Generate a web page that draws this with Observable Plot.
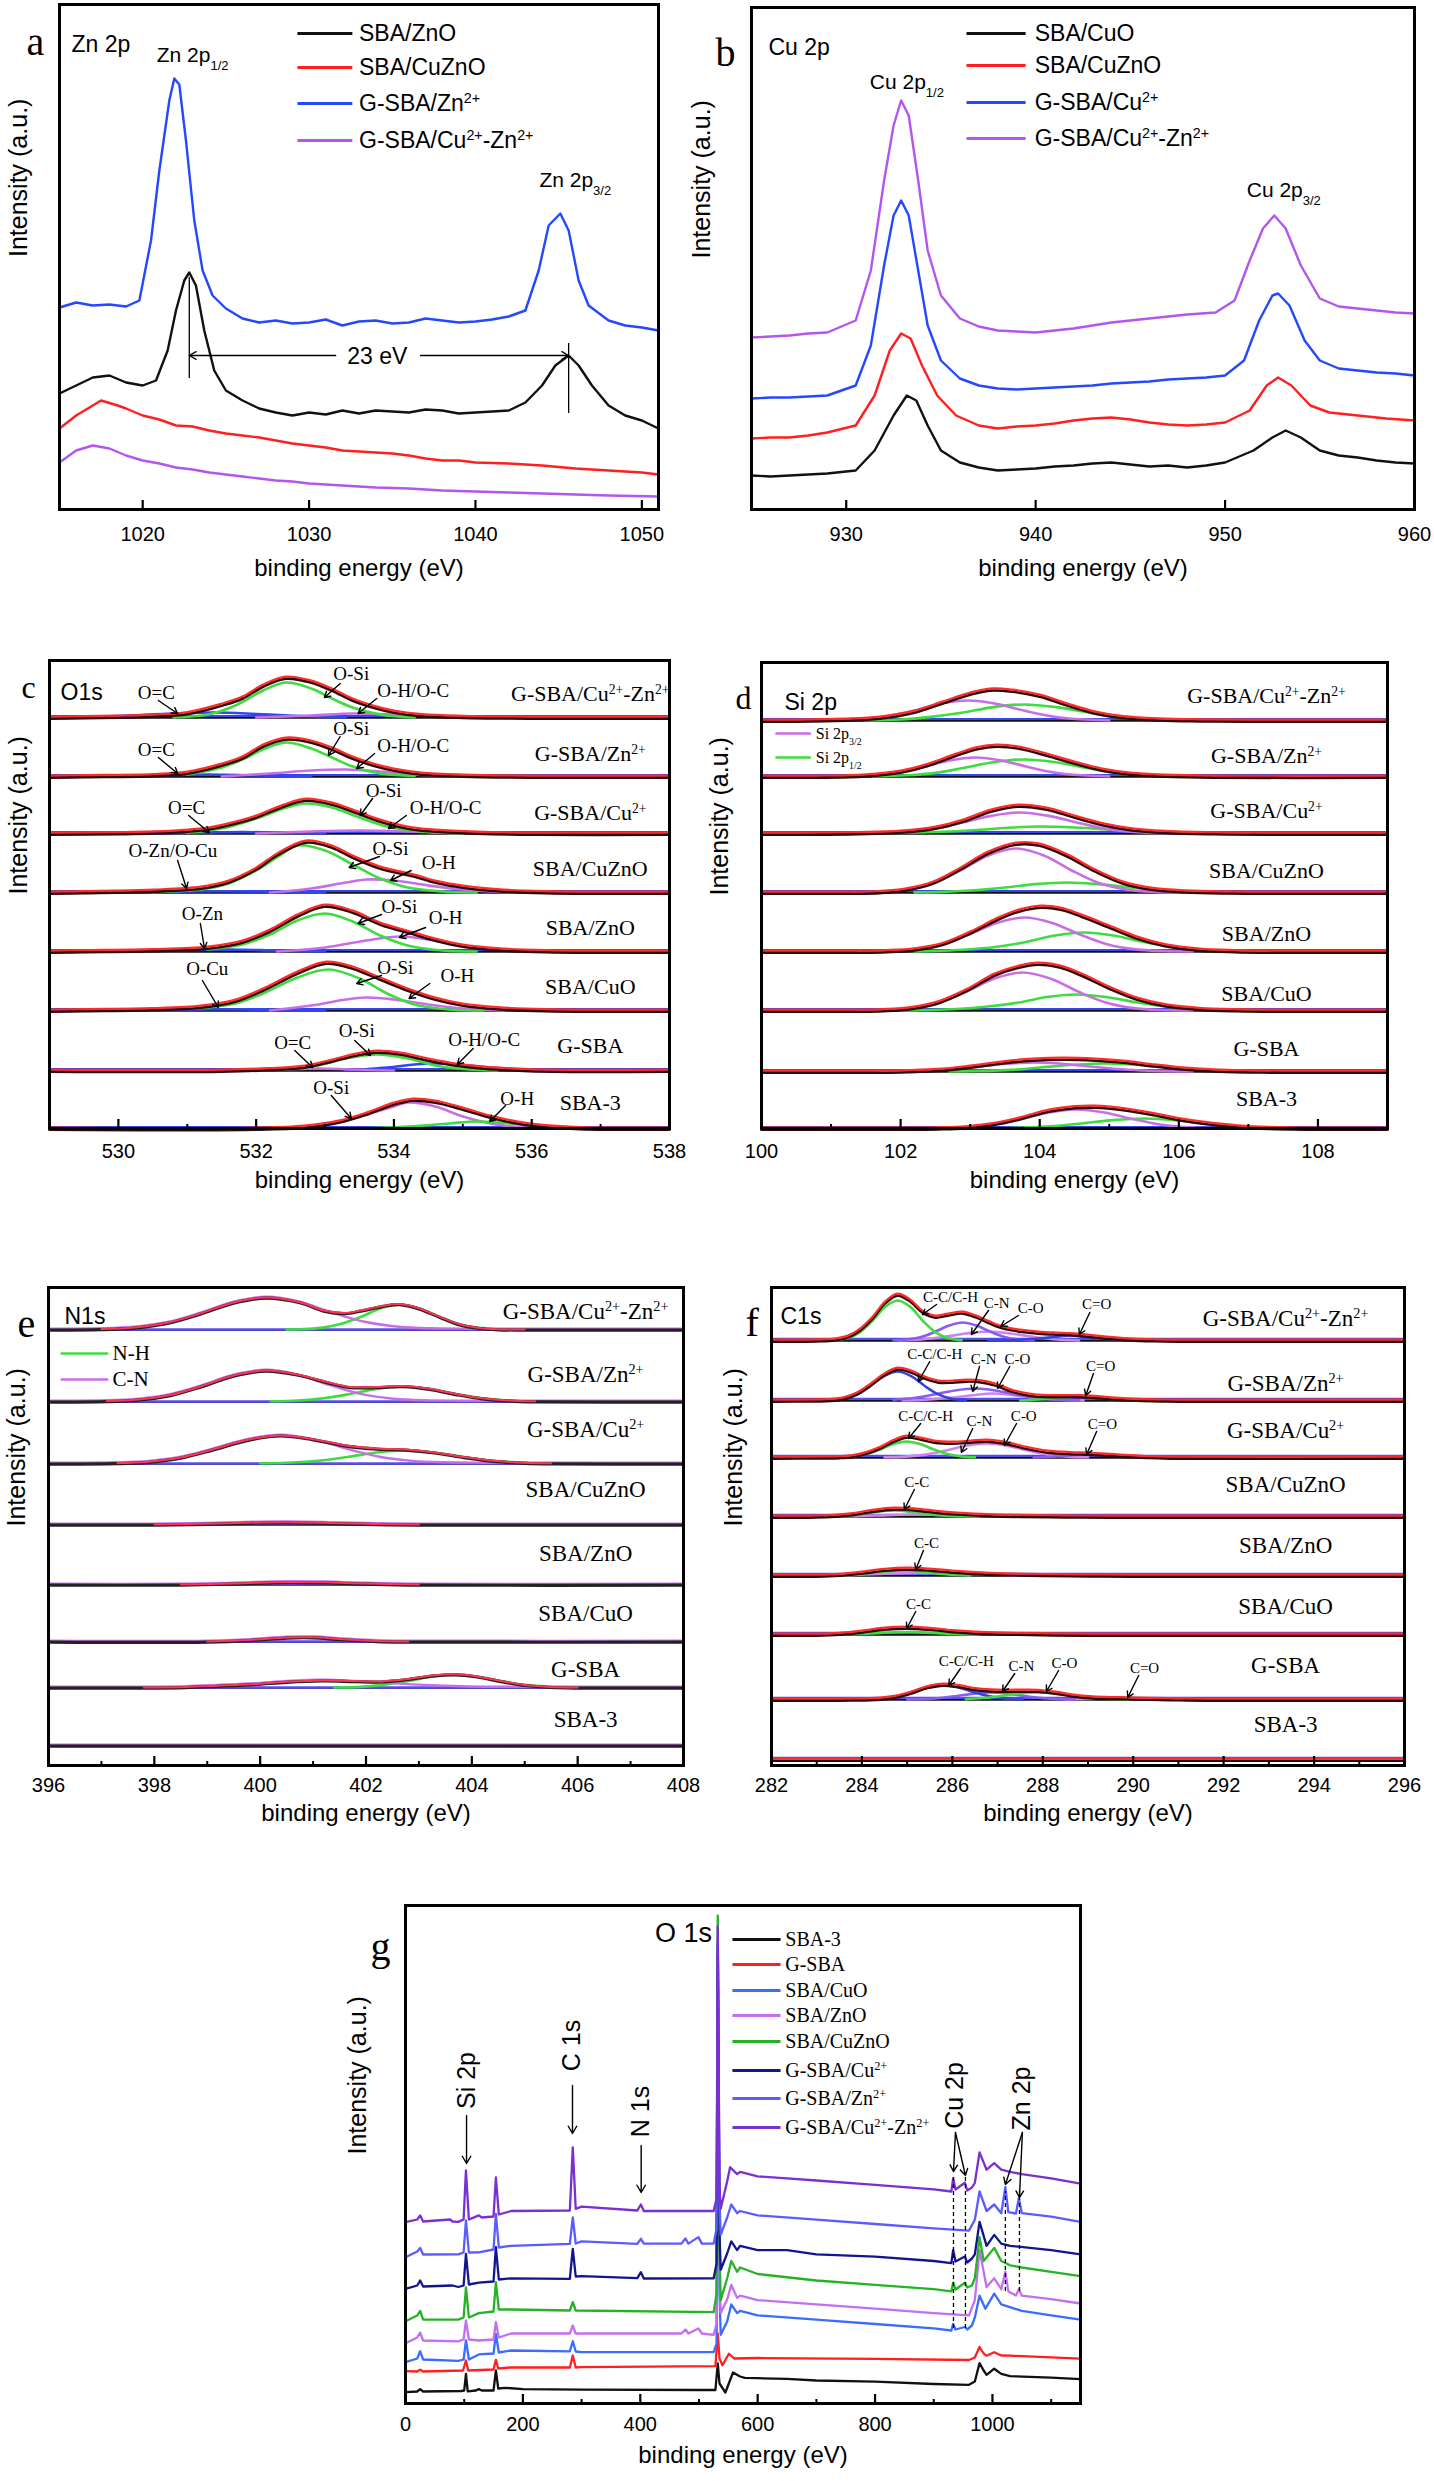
<!DOCTYPE html>
<html><head><meta charset="utf-8">
<script src="https://cdn.jsdelivr.net/npm/d3@7"></script>
<script src="https://cdn.jsdelivr.net/npm/@observablehq/plot@0.6"></script>
<style>
html,body{margin:0;padding:0;background:#fff;}
#root{position:relative;width:1434px;height:2481px;overflow:hidden;background:#fff;}
</style></head>
<body><div id="root"></div>
<script>
// ===================== DATA =====================
// ---- (a) Zn 2p : [binding energy eV, intensity a.u.]
const znSeries = ["SBA/ZnO", "SBA/CuZnO", "G-SBA/Zn^{2+}", "G-SBA/Cu^{2+}-Zn^{2+}"];
const zn2p_SBA_ZnO = [[1015,116],[1016,124],[1017,132],[1018,134],[1019,127],[1020,124],[1020.8,129],[1021.5,159],[1022,199],[1022.5,229],[1022.8,237],[1023.2,224],[1023.7,179],[1024.3,139],[1025,119],[1026,109],[1027,101],[1028,97],[1029,94],[1030,97],[1031,95],[1032,99],[1033,96],[1034,99],[1035,98],[1036,97],[1037,100],[1038,99],[1039,96],[1040,97],[1041,98],[1042,99],[1043,107],[1044,124],[1044.8,144],[1045.6,154],[1046.2,144],[1047,124],[1048,104],[1049,94],[1050,89],[1051,81]];
const zn2p_SBA_CuZnO = [[1015,81],[1016,94],[1017,104],[1017.5,109],[1018.5,104],[1019,101],[1020,94],[1021,90],[1022,84],[1023,83],[1024,79],[1025,76],[1026,74],[1027,72],[1028,69],[1029,66],[1030,64],[1031,62],[1032,59],[1033,58],[1034,57],[1035,56],[1036,54],[1037,51],[1038,49],[1039,49],[1040,47],[1042,46],[1044,44],[1046,41],[1048,39],[1050,37],[1051,35]];
const zn2p_GSBA_Zn = [[1015,202],[1016,207],[1017,204],[1018,205],[1019,203],[1019.8,209],[1020.5,269],[1021,339],[1021.6,409],[1021.9,431],[1022.2,425],[1022.6,369],[1023.1,289],[1023.6,239],[1024.2,214],[1025,201],[1026,191],[1027,187],[1028,189],[1029,186],[1030,187],[1031,190],[1032,184],[1033,188],[1034,189],[1035,186],[1036,187],[1037,191],[1038,189],[1039,187],[1040,188],[1041,190],[1042,193],[1043,199],[1043.8,239],[1044.4,284],[1045.1,296],[1045.6,279],[1046.2,229],[1046.8,204],[1048,189],[1049,184],[1050,182],[1051,179]];
const zn2p_GSBA_CuZn = [[1015,47],[1016,59],[1017,64],[1018,61],[1019,54],[1020,49],[1021,46],[1022,42],[1023,40],[1024,37],[1025,35],[1026,33],[1027,31],[1028,29],[1029,28],[1030,26],[1032,24],[1034,22],[1036,21],[1038,19],[1040,18],[1042,17],[1044,16],[1046,15],[1048,14],[1051,13]];
const zn2pTicks = [1020, 1030, 1040, 1050];
const zn2pLegendY = [476, 442, 406, 369];
const zn2pLegendX = [1029.3, 1032.6, 1033.0];

// ---- (b) Cu 2p
const cuSeries = ["SBA/CuO", "SBA/CuZnO", "G-SBA/Cu^{2+}", "G-SBA/Cu^{2+}-Zn^{2+}"];
const cu2p_SBA_CuO = [[925,34],[926,33],[927,34],[928,35],[929,36],[930.5,39],[931.5,59],[932.5,94],[933.2,114],[933.7,109],[934.3,84],[935,59],[936,47],[937,42],[938,39],[939,40],[940,41],[941,43],[942,44],[943,46],[944,47],[945,45],[946,43],[947,44],[948,42],[949,44],[950,47],[951.5,59],[952.5,72],[953.2,79],[954,72],[955,59],[956,54],[957,52],[958,49],[959,47],[960,46]];
const cu2p_SBA_CuZnO = [[925,71],[926,72],[927,72],[928,74],[929,77],[930.5,84],[931.5,114],[932.3,159],[932.9,176],[933.4,171],[934,144],[934.8,114],[935.8,94],[937,84],[938,81],[939,83],[940,84],[941,86],[942,89],[943,91],[944,92],[945,90],[946,87],[947,85],[948,84],[949,85],[950,87],[951.3,99],[952.2,124],[952.8,132],[953.5,124],[954.5,104],[955.5,97],[957,94],[958.5,91],[960,89]];
const cu2p_GSBA_Cu = [[925,111],[926,112],[927,112],[928,113],[929,114],[930.5,124],[931.3,164],[932,244],[932.5,294],[932.9,309],[933.3,294],[933.8,239],[934.3,184],[935,149],[936,131],[937,124],[938,121],[939,120],[940,121],[941,122],[942,123],[943,124],[944,126],[945,127],[946,128],[947,130],[948,131],[949,132],[950,134],[951,149],[951.8,189],[952.5,214],[952.8,216],[953.4,204],[954.2,169],[955,149],[956,141],[957,139],[958,137],[959,136],[960,134]];
const cu2p_GSBA_CuZn = [[925,172],[926,173],[927,174],[928,176],[929,177],[930.5,189],[931.3,239],[932,329],[932.5,384],[932.9,409],[933.3,394],[933.8,329],[934.3,259],[935,214],[936,191],[937,183],[938,179],[939,178],[940,177],[941,179],[942,181],[943,184],[944,187],[945,189],[946,191],[947,193],[948,195],[949.5,197],[950.5,209],[951.3,249],[952,281],[952.6,294],[953.2,281],[954,244],[955,211],[956,203],[957,201],[958,199],[959,197],[960,196]];
const cu2pTicks = [930, 940, 950, 960];
const cu2pLegendY = [476, 444, 407, 371];
const cu2pLegendX = [936.35, 939.47, 939.95];

// ---- shared sample names for stacked panels (top to bottom)
const samples = ["G-SBA/Cu^{2+}-Zn^{2+}", "G-SBA/Zn^{2+}", "G-SBA/Cu^{2+}", "SBA/CuZnO", "SBA/ZnO", "SBA/CuO", "G-SBA", "SBA-3"];

// ---- (c) O1s : per sample rows of [eV, height above row baseline]
const o1sOffsets = [411, 352, 295, 236, 177, 118, 58, 0];
const o1sLabelY = [435, 375, 316, 260, 201, 142, 83, 26];
const o1sLabelX = 536.85;
const o1sEnvelope = [
 [[529.5,0.5],[530,1],[530.5,2],[531,4.5],[531.5,13],[531.8,20],[532.1,32],[532.43,40],[532.8,36],[533.1,28],[533.4,18],[533.7,11],[534,6],[534.4,2.5],[535,0.8],[536,0]],
 [[529.5,0.5],[530.5,1.5],[531,4],[531.5,12],[531.8,19],[532.1,31],[532.43,38],[532.8,35],[533.1,28],[533.4,19],[533.7,12],[534,7],[534.4,3],[535,1],[536,0]],
 [[530,0.5],[530.8,2],[531.3,5],[531.7,11],[532,17],[532.4,28],[532.72,34],[533.1,30],[533.4,23],[533.8,13],[534.2,6],[534.6,3],[535.2,1],[536,0]],
 [[529.5,0.5],[530.5,2],[531.2,5],[531.6,11],[532,24],[532.3,38],[532.72,51],[533.1,46],[533.4,36],[533.8,25],[534.3,17],[534.6,11],[535,6],[535.5,2.5],[536.2,0.5],[537,0]],
 [[529.5,0.5],[530.5,1.5],[531.3,4],[531.8,10],[532.2,21],[532.6,36],[532.99,46],[533.4,40],[533.8,28],[534.3,18],[534.6,12],[535,6],[535.5,2.5],[536.2,0.5],[537,0]],
 [[529.5,0.5],[530.5,1.5],[531.2,4],[531.7,10],[532.1,21],[532.6,38],[533.02,48],[533.4,43],[533.8,32],[534.2,21],[534.6,12],[535,6],[535.5,2.5],[536.2,0.5],[537,0]],
 [[531.5,0],[532.2,1.5],[532.7,4],[533.1,10],[533.45,16],[533.75,19],[534.1,17],[534.5,11],[534.9,6],[535.3,3],[535.8,1],[536.3,0]],
 [[532,0],[532.7,2],[533.2,7],[533.6,15],[534,25],[534.28,29],[534.6,27],[535,20],[535.4,12],[535.8,6],[536.2,2.5],[536.7,0.5],[537.2,0]]
];
const o1sGreen = [
 [[530.8,0],[531.3,3],[531.7,12],[532.1,27],[532.43,35],[532.8,29],[533.1,19],[533.4,10],[533.8,3],[534.3,0]],
 [[531,2],[531.5,9],[531.8,17],[532.1,27],[532.43,34],[532.8,28],[533.1,19],[533.4,10],[533.8,3],[534.3,0.5]],
 [[531,1],[531.5,5],[532,15],[532.4,25],[532.72,30],[533.1,26],[533.5,16],[533.9,7],[534.4,2],[535,0]],
 [[530.5,0.5],[531.2,3],[531.6,9],[532,22],[532.3,35],[532.6,47],[533,42],[533.4,28],[533.8,14],[534.2,5],[534.7,1],[535.2,0]],
 [[531.3,2],[531.8,7],[532.2,17],[532.6,31],[533,38],[533.4,30],[533.8,16],[534.2,6],[534.7,1],[535.2,0]],
 [[531,1.5],[531.7,7],[532.1,17],[532.6,33],[533.05,41],[533.5,32],[533.9,17],[534.3,6],[534.8,1],[535.3,0]],
 [[532.3,0.5],[532.9,5],[533.3,12],[533.75,16],[534.2,12],[534.6,5],[535,1.5],[535.5,0]],
 [[533.5,0],[534.2,2],[534.8,5],[535.2,7],[535.6,5.5],[536,3],[536.5,1],[537,0]]
];
const o1sPurple = [
 [[532,0],[532.8,2],[533.4,4],[534,3],[534.6,1],[535.2,0]],
 [[531.5,0],[532.2,3],[532.8,6],[533.3,7],[533.8,5],[534.3,2],[535,0]],
 [[532,0],[532.8,2],[533.5,3],[534.2,2],[535,0]],
 [[532.2,0],[532.8,4],[533.3,10],[533.6,13],[534,12],[534.5,7],[535,3],[535.6,0.5],[536,0]],
 [[532.3,0],[533,4],[533.6,11],[534.08,15],[534.5,12],[535,6],[535.5,2],[536,0]],
 [[532.2,0],[532.8,5],[533.3,11],[533.6,13],[534,11],[534.5,6],[535,2],[535.6,0]],
 [[531.8,0],[532.4,1],[532.9,2],[533.4,1],[534,0]],
 [[532.2,0],[532.8,2],[533.3,8],[533.7,16],[534,22],[534.2,26],[534.6,22],[535,12],[535.4,5],[535.8,1.5],[536.3,0]]
];
const o1sBlue = [
 [[529.3,0],[530,1.5],[530.8,4],[531.4,5],[532,3.5],[532.6,1.5],[533.3,0]],
 [[529.5,0],[530.5,1],[531.3,2],[532,1],[532.8,0]],
 [[530.5,0],[531.3,1],[531.8,1.5],[532.5,0.5],[533,0]],
 [[529.5,0],[530.5,0.8],[531.5,1.2],[532.5,0.5],[533,0]],
 [[530,0],[531,1.5],[531.6,2],[532.3,1],[533,0]],
 [[529.8,0],[530.8,0.8],[531.5,1.2],[532.3,0.5],[533,0]],
 [[533.3,0],[533.9,3],[534.3,6],[534.6,7],[535,5.5],[535.4,3],[535.9,0.8],[536.5,0]],
 []
];
// [label, label eV, label y, arrow start eV, y, arrow end eV, y]
const o1sNotes = [
 ["O=C",530.55,436,530.58,428,530.86,415],["O-Si",533.38,455,533.22,445,532.99,431],["O-H/O-C",534.28,438,533.75,430,533.48,415],
 ["O-Si",533.38,400,533.22,392,533.05,373],["O=C",530.55,379,530.58,371,530.86,355],["O-H/O-C",534.28,383,533.72,375,533.46,360],
 ["O=C",530.99,321,531.02,313,531.32,296],["O-Si",533.85,338,533.69,330,533.51,313],["O-H/O-C",534.75,321,534.18,313,533.92,300],
 ["O-Zn/O-Cu",530.79,278,530.86,268,530.99,240],["O-Si",533.95,280,533.79,272,533.35,261],["O-H",534.65,266,534.25,258,533.95,248],
 ["O-Zn",531.22,215,531.19,205,531.25,180],["O-Si",534.08,222,533.82,214,533.48,205],["O-H",534.75,211,534.46,201,534.08,191],
 ["O-Cu",531.29,160,531.22,148,531.45,121],["O-Si",534.02,161,533.82,153,533.46,145],["O-H",534.92,153,534.52,145,534.22,130],
 ["O=C",532.53,86,532.56,78,532.82,61],["O-Si",533.46,98,533.43,88,533.66,73],["O-H/O-C",535.31,89,535.15,80,534.92,64],
 ["O-Si",533.09,41,533.09,33,533.38,10],["O-H",535.79,30,535.62,23,535.39,7]
];
const o1sMajor = [530, 532, 534, 536, 538];
const o1sMinor = [531, 533, 535, 537];

// ---- (d) Si 2p
const si2pOffsets = [408, 352, 295, 236, 177, 118, 57, 0];
const si2pLabelY = [433, 373, 318, 258, 195, 135, 80, 30];
const si2pLabelX = 107.26;
const si2pEnvelope = [
 [[100.5,0],[101.2,1],[101.7,3],[102.2,9],[102.6,18],[103,27],[103.28,31],[103.6,30],[104,25],[104.4,16],[104.8,8],[105.2,3.5],[105.7,1.2],[106.3,0.3],[107,0]],
 [[100.8,0],[101.5,1.3],[102,5],[102.4,12],[102.8,22],[103.1,28.5],[103.38,31],[103.7,29],[104.1,22],[104.5,14],[104.9,7],[105.3,3],[105.8,1],[106.5,0]],
 [[100.5,0],[101.4,0.6],[102,2],[102.5,6],[102.9,13],[103.3,23],[103.68,28],[104.1,25],[104.5,17],[104.9,9.5],[105.3,4.5],[105.8,1.7],[106.5,0.4],[107.2,0]],
 [[101.3,0],[101.7,0.6],[102.06,2.9],[102.46,9.8],[102.86,24],[103.26,40],[103.66,49],[104,48],[104.4,37],[104.8,22],[105.2,10],[105.6,4],[106.1,1.2],[106.7,0.2],[107.2,0]],
 [[101.4,0],[101.8,0.5],[102.2,2.3],[102.6,7.6],[103,19],[103.4,33],[103.7,41],[104.01,45],[104.3,43],[104.6,36],[105,25],[105.4,14],[105.8,6.5],[106.3,2],[106.8,0.5],[107.3,0]],
 [[101.4,0],[101.75,0.5],[102.15,2.5],[102.55,8.5],[102.95,20.5],[103.35,36],[103.7,44],[103.98,47],[104.3,44],[104.6,36],[105,23],[105.4,12],[105.8,5.5],[106.3,1.8],[106.8,0.4],[107.3,0]],
 [[101.7,0],[102.1,0.5],[102.6,2],[103,5],[103.5,9.5],[103.9,12],[104.36,13],[104.8,12],[105.2,10],[105.6,6.5],[106,3.5],[106.5,1.2],[107,0.3],[107.5,0]],
 [[102.1,0],[102.53,0.3],[102.93,1.3],[103.33,4.5],[103.73,10.5],[104.13,18],[104.5,21.5],[104.8,22],[105.2,19.5],[105.6,15],[106,9.5],[106.4,5.5],[106.85,2.3],[107.3,0.7],[107.8,0.1]]
];
const si2p32 = [
 [[101,0.3],[101.4,1.2],[101.8,4.2],[102.2,10],[102.57,16.8],[102.97,20],[103.37,16.8],[103.77,10],[104.17,4.2],[104.57,1.2],[105,0.2]],
 [[101.2,0.2],[101.6,1.2],[102,4],[102.33,9.5],[102.7,16],[103.08,19],[103.45,16],[103.83,9.5],[104.2,4],[104.6,1.2],[105,0.2]],
 [[101.6,0.3],[102,1.2],[102.45,4.4],[102.86,10.5],[103.3,17.6],[103.71,21],[104.13,17.6],[104.56,10.5],[104.98,4.4],[105.4,1.2],[105.9,0.2]],
 [[101.3,0],[101.66,0.6],[102.06,2.8],[102.46,9.2],[102.86,22],[103.26,37],[103.66,44],[104.06,37],[104.46,22],[104.86,9.2],[105.26,2.8],[105.66,0.6],[106.1,0]],
 [[101.4,0],[101.78,0.5],[102.18,2.1],[102.58,7],[102.98,17],[103.38,28.5],[103.78,34],[104.18,28.5],[104.58,17],[104.98,7],[105.38,2.1],[105.78,0.5],[106.2,0]],
 [[101.4,0],[101.75,0.5],[102.15,2.4],[102.55,8],[102.95,19],[103.35,32],[103.75,38],[104.15,32],[104.55,19],[104.95,8],[105.35,2.4],[105.75,0.5],[106.2,0]],
 [[101.7,0],[102.1,0.5],[102.56,1.8],[103,4.5],[103.46,7.5],[103.91,9],[104.36,7.5],[104.8,4.5],[105.26,1.8],[105.7,0.5],[106.2,0]],
 [[102.1,0],[102.53,0.3],[102.93,1.2],[103.33,4],[103.73,9.5],[104.13,16],[104.53,19],[104.93,16],[105.33,9.5],[105.73,4],[106.13,1.2],[106.53,0.3],[107,0]]
];
const si2p12 = [
 [[101.5,0.2],[102,1],[102.4,3.4],[102.9,8],[103.33,13.4],[103.78,16],[104.23,13.4],[104.7,8],[105.1,3.4],[105.6,1],[106,0.2]],
 [[101.6,0.3],[102.1,1.2],[102.5,3.6],[102.9,8.5],[103.33,14.3],[103.78,17],[104.23,14.3],[104.68,8.5],[105.1,3.6],[105.6,1],[106.1,0.2]],
 [[101.3,0.1],[101.9,0.5],[102.5,1.5],[103.1,3.5],[103.6,6],[103.99,7],[104.5,6],[105.1,3.5],[105.6,1.5],[106.3,0.5],[107,0]],
 [[102.2,0.1],[102.6,0.6],[103,2],[103.5,5],[103.94,8.4],[104.39,10],[104.84,8.4],[105.3,5],[105.75,2],[106.2,0.6],[106.7,0.1]],
 [[102.2,0.1],[102.5,0.5],[102.9,1.8],[103.36,4.5],[103.8,9.5],[104.22,16],[104.64,19],[105.06,16],[105.5,9.5],[105.92,4.5],[106.35,1.5],[106.8,0.4],[107.3,0]],
 [[102,0.1],[102.4,0.5],[102.8,1.5],[103.25,4],[103.7,8],[104.1,13.5],[104.53,16],[104.95,13.5],[105.4,8],[105.8,4],[106.25,1.3],[106.7,0.3],[107.2,0]],
 [[102.7,0],[103.1,0.5],[103.6,1.6],[104,4],[104.5,6.7],[104.94,8],[105.4,6.7],[105.85,4],[106.3,1.6],[106.8,0.5],[107.3,0]],
 [[103.3,0.1],[103.7,0.7],[104.15,2.1],[104.6,5],[105.05,8.4],[105.5,10],[105.95,8.4],[106.4,5],[106.85,2.1],[107.3,0.6],[107.8,0.1]]
];
const si2pLegend = ["Si 2p_{3/2}", "Si 2p_{1/2}"];
const si2pLegendY = [395, 371];
const si2pLegendX = [100.2, 100.71, 100.78];
const si2pMajor = [100, 102, 104, 106, 108];
const si2pMinor = [101, 103, 105, 107];

// ---- (e) N1s
const n1sOffsets = [436, 364, 302, 241, 181, 124, 78, 20];
const n1sLabelY = [454, 391, 336, 276, 212, 152, 96, 46];
const n1sLabelX = 406.15;
const n1sEnvelope = [
 [[397,0.4],[397.62,2],[398.25,6.7],[398.87,16],[399.5,27],[400.12,32],[400.75,27.3],[401.2,19],[401.6,16.5],[401.9,19],[402.3,23.5],[402.64,25.5],[403,21.2],[403.4,12.6],[403.77,5.2],[404.14,1.6],[404.5,0.3],[405,0]],
 [[397.1,0.4],[397.7,2],[398.3,6.5],[398.9,15.5],[399.5,26],[400.12,31],[400.72,26.8],[401.32,18.7],[401.7,14.5],[402.2,14.5],[402.7,15.5],[403.2,12.7],[403.7,7.5],[404.2,3.2],[404.7,1],[405.2,0.2]],
 [[397.3,0.4],[397.9,1.8],[398.5,6],[399.1,14],[399.75,23.5],[400.38,28.1],[401,24.3],[401.63,18],[402.2,15],[402.75,14],[403.3,11.1],[403.85,6.5],[404.4,2.7],[405,0.8],[405.5,0.2]],
 [[398,0],[399,0.8],[400,2],[400.5,2.2],[401.3,1.5],[402.2,0.4],[403,0]],
 [[398.5,0],[399.5,1],[400.5,2.5],[401.2,2.2],[402,1],[403,0]],
 [[399,0],[399.8,1.5],[400.5,4],[401,4.2],[401.5,2.5],[402.2,0.5],[402.8,0]],
 [[397.8,0],[398.6,0.5],[399.2,1.8],[399.9,3.5],[400.5,5.8],[401.17,7.1],[401.8,6.4],[402.3,6.1],[402.8,8.6],[403.25,12],[403.68,13.2],[404.1,11.1],[404.55,6.5],[405,2.6],[405.5,0.6],[406,0]],
 []
];
const n1sCN = [
 [[397,0.4],[397.62,2],[398.25,6.7],[398.87,16],[399.5,27],[400.12,32],[400.75,27],[401.37,16],[402,6.7],[402.62,2],[403.25,0.4],[404,0]],
 [[397.1,0.4],[397.7,2],[398.3,6.5],[398.9,15.5],[399.5,26],[400.12,31],[400.72,26],[401.32,15.5],[401.92,6.5],[402.52,2],[403.1,0.4],[403.8,0]],
 [[397.3,0.4],[397.9,1.8],[398.5,6],[399.1,14],[399.75,23.5],[400.38,28],[401,23.5],[401.63,14],[402.25,6],[402.88,1.8],[403.5,0.4],[404.2,0]],
 [[398,0],[399,0.8],[400,2],[400.5,2.2],[401.3,1.5],[402.2,0.4],[403,0]],
 [[398.5,0],[399.5,1],[400.5,2.5],[401.2,2.2],[402,1],[403,0]],
 [[399,0],[399.8,1.5],[400.5,4],[401,4.2],[401.5,2.5],[402.2,0.5],[402.8,0]],
 [[397.8,0],[398.6,0.5],[399.2,1.8],[399.9,3.5],[400.5,5.8],[401.17,7],[401.8,5.8],[402.5,3.5],[403.1,1.8],[403.8,0.5],[404.5,0]],
 []
];
const n1sNH = [
 [[400.5,0],[400.77,0.3],[401.14,1.6],[401.5,5.2],[401.9,12.5],[402.27,21],[402.64,25],[403,21],[403.4,12.5],[403.77,5.2],[404.14,1.6],[404.5,0.3],[405,0]],
 [[400.2,0.2],[400.7,1],[401.2,3.2],[401.7,7.5],[402.2,12.6],[402.7,15],[403.2,12.6],[403.7,7.5],[404.2,3.2],[404.7,1],[405.2,0.2]],
 [[400,0.2],[400.5,0.8],[401.1,2.7],[401.65,6.5],[402.2,11],[402.75,13],[403.3,11],[403.85,6.5],[404.4,2.7],[405,0.8],[405.5,0.2]],
 [], [], [],
 [[401.4,0],[401.9,0.6],[402.3,2.6],[402.8,6.5],[403.25,11],[403.68,13],[404.1,11],[404.55,6.5],[405,2.6],[405.5,0.6],[406,0]],
 []
];
const n1sLegend = ["N-H", "C-N"];
const n1sLegendY = [412, 386];
const n1sLegendX = [396.23, 397.13, 397.21];
const n1sMajor = [396, 398, 400, 402, 404, 406, 408];
const n1sMinor = [397, 399, 401, 403, 405, 407];

// ---- (f) C1s
const c1sOffsets = [425, 365, 308, 249, 190, 131, 66, 6];
const c1sLabelY = [447, 382, 335, 281, 220, 159, 100, 41];
const c1sLabelX = 293.37;
const c1sEnvelope = [
 [[283,0.2],[283.4,1.1],[283.69,4],[283.96,11],[284.24,23],[284.51,38],[284.79,46],[285.07,40],[285.34,29],[285.62,24],[285.9,26],[286.23,28],[286.53,24],[286.83,18],[287.13,13],[287.5,10],[287.9,8],[288.3,7],[288.6,6.5],[289,5],[289.4,3],[289.9,1.2],[290.5,0.3],[291,0]],
 [[283,0.2],[283.29,0.6],[283.59,2.2],[283.89,7],[284.19,16],[284.49,26],[284.79,32],[285.09,29],[285.39,23],[285.69,19],[286,19],[286.3,20],[286.6,19.5],[286.95,16],[287.3,10],[287.7,6],[288.1,4.5],[288.5,4.5],[288.8,4.5],[289.2,3.5],[289.6,2],[290.1,0.8],[290.6,0.2],[291,0]],
 [[283.2,0.2],[283.49,0.5],[283.79,1.5],[284.09,4.5],[284.39,9.5],[284.69,16.5],[284.99,21],[285.3,19],[285.6,16],[286,15],[286.4,16],[286.76,17],[287.2,14.5],[287.66,9.5],[288.1,6],[288.6,4.5],[289,4],[289.4,3],[289.8,1.7],[290.3,0.6],[290.8,0]],
 [[282.8,0],[283.3,0.6],[283.8,2.5],[284.2,5.5],[284.7,8],[285.2,7],[285.7,4.5],[286.2,2.8],[286.8,1.5],[287.5,0.7],[288.5,0.2],[289.5,0]],
 [[283,0],[283.5,0.8],[284,3],[284.5,5.8],[285,7],[285.5,6],[286,4],[286.5,2.5],[287.2,1.3],[288,0.6],[289,0.2],[290,0]],
 [[283,0],[283.5,0.8],[284,3],[284.5,6],[285,7],[285.5,5.8],[286,3.5],[286.5,2],[287.2,1],[288,0.4],[289,0]],
 [[283.8,0.1],[284.4,1],[284.75,3],[285.1,7.2],[285.45,12.5],[285.8,15],[286.15,13.5],[286.5,10.5],[286.85,9.2],[287.2,8.8],[287.6,9],[287.88,8.8],[288.28,7],[288.68,4],[289.1,2.2],[289.5,1.5],[289.9,1.3],[290.4,0.8],[291,0.3],[291.6,0]],
 []
];
const c1sGreen = [
 [[283.4,0.4],[283.69,2.5],[283.96,8.4],[284.24,20],[284.51,33.6],[284.79,40],[285.07,33.6],[285.34,20],[285.62,8.4],[285.89,2.5],[286.2,0.4]],
 [[287.5,0],[288,1.2],[288.4,3],[288.8,4],[289.2,3],[289.6,1.2],[290.1,0]],
 [[283.49,0.2],[283.79,1],[284.09,3.4],[284.39,8],[284.69,13.4],[284.99,16],[285.29,13.4],[285.59,8],[285.89,3.4],[286.19,1],[286.5,0.2]],
 [[283.2,0],[283.7,1],[284.2,4],[284.7,6],[285.2,4],[285.7,1.2],[286.2,0.2],[286.6,0]],
 [[283.4,0],[283.9,1],[284.4,3.5],[284.9,5],[285.4,3.5],[285.9,1],[286.4,0]],
 [[283.6,0],[284.1,0.8],[284.6,2],[285.1,2.5],[285.6,1.5],[286.1,0.5],[286.6,0]],
 [[286.3,0.3],[286.68,1.5],[287.08,3.5],[287.48,5.9],[287.88,7],[288.28,5.9],[288.68,3.5],[289.08,1.5],[289.48,0.4],[289.9,0.1]],
 []
];
const c1sBlue = [
 [[286.8,0],[287.3,0.4],[287.85,1.7],[288.25,3.5],[288.6,5],[288.95,3.5],[289.35,1.7],[289.9,0.4],[290.4,0]],
 [[283.29,0.4],[283.59,1.8],[283.89,6.1],[284.19,14.5],[284.49,24.4],[284.79,29],[285.09,24.4],[285.39,14.5],[285.69,6.1],[285.99,1.8],[286.3,0.4]],
 [], [], [], [],
 [[284.05,0.2],[284.4,0.9],[284.75,2.9],[285.1,7],[285.45,11.8],[285.8,14],[286.15,11.8],[286.5,7],[286.85,2.9],[287.2,0.9],[287.55,0.2]],
 []
];
const c1sViolet = [
 [[284.7,0.2],[285,1.1],[285.33,3.8],[285.63,9],[285.93,15],[286.23,18],[286.53,15],[286.83,9],[287.13,3.8],[287.43,1.1],[287.8,0.2]],
 [[284.7,0.75],[285.15,2.5],[285.6,6],[286.05,10],[286.5,12],[286.95,10],[287.4,6],[287.85,2.5],[288.3,0.75],[288.8,0.1]],
 [[287.8,0],[288.3,1],[288.7,2.5],[289,3],[289.4,2.5],[289.8,1],[290.3,0]],
 [], [], [],
 [[285,0.1],[285.35,0.4],[285.73,1.5],[286.1,3.5],[286.48,5.9],[286.85,7],[287.23,5.9],[287.6,3.5],[287.98,1.5],[288.35,0.4],[288.7,0.1]],
 []
];
const c1sPurple = [
 [[284.8,0],[285.3,1],[285.8,3.5],[286.3,7],[286.8,9],[287.3,7],[287.8,3.5],[288.3,1],[288.8,0]],
 [[284.9,0.1],[285.4,0.8],[285.9,2.5],[286.4,5],[286.9,7],[287.4,5],[287.9,2.5],[288.4,0.8],[288.9,0.1]],
 [[284.5,0.2],[284.96,0.9],[285.41,2.9],[285.86,7],[286.31,11.8],[286.76,14],[287.21,11.8],[287.66,7],[288.11,2.9],[288.56,0.9],[289,0.2]],
 [[283.5,0],[284.3,1],[285.1,2],[285.9,1.5],[286.8,0.5],[287.6,0]],
 [[283.6,0],[284.4,1.5],[285.2,2.5],[286,2],[286.8,0.8],[287.6,0]],
 [[283.2,0],[283.7,1],[284.2,3.5],[284.7,6],[285.1,6.5],[285.6,5],[286.1,2.5],[286.6,1],[287.2,0]],
 [[288.5,0],[289.2,0.8],[289.8,1.5],[290.4,0.8],[291,0]],
 []
];
const c1sNotes = [
 ["C-C/C-H",285.96,468,285.65,461,285.34,451],["C-N",286.98,462,286.8,455,286.42,431],["C-O",287.73,457,287.46,450,287.07,439],["C=O",289.19,461,289.04,453,288.81,431],
 ["C-C/C-H",285.61,411,285.5,404,285.25,384],["C-N",286.69,406,286.6,399,286.45,374],["C-O",287.44,406,287.27,399,287.0,377],["C=O",289.28,399,289.12,392,288.95,370],
 ["C-C/C-H",285.41,349,285.3,342,285.03,327],["C-N",286.6,344,286.45,337,286.2,313],["C-O",287.58,349,287.42,342,287.15,320],["C=O",289.32,341,289.19,334,288.97,311],
 ["C-C",285.21,283,285.16,276,284.94,256],["C-C",285.43,222,285.36,215,285.19,196],["C-C",285.25,161,285.19,154,284.99,137],
 ["C-C/C-H",286.31,104,286.18,97,285.92,80],["C-N",287.53,99,287.38,92,287.11,74],["C-O",288.48,102,288.35,95,288.08,74],["C=O",290.25,97,290.12,90,289.88,68]
];
const c1sMajor = [282, 284, 286, 288, 290, 292, 294, 296];
const c1sMinor = [283, 285, 287, 289, 291, 293, 295];

// ---- (g) survey spectra [eV, intensity]
const surveyNames = ["SBA-3", "G-SBA", "SBA/CuO", "SBA/ZnO", "SBA/CuZnO", "G-SBA/Cu^{2+}", "G-SBA/Zn^{2+}", "G-SBA/Cu^{2+}-Zn^{2+}"];
const surveySBA3 = [[0,11.3],[20,12],[25,14.4],[30,12],[95,12.5],[100,13],[103,29.7],[106,12.2],[120,13],[125,14.4],[130,13],[150,13],[154,33],[158,15],[170,15.7],[200,14.4],[300,13.8],[500,13.5],[528,13.5],[532,40],[535,20],[545,11],[558,31],[570,27],[578,25.7],[600,25.3],[650,24.7],[700,23],[800,21.8],[900,19.5],[960,18.7],[970,22],[978,40.4],[985,33],[990,28.7],[1003,34.8],[1015,29.6],[1030,27.4],[1100,25.8],[1150,24.4]];
const surveyGSBA = [[0,32.3],[20,32],[25,33.9],[30,32],[98,33],[103,43],[107,33],[150,34],[154,43.7],[158,35],[180,36.1],[280,36],[285,48],[290,36],[300,36.4],[528,37.4],[532,70],[535,45],[540,38.3],[551,49.7],[560,45],[600,45.5],[800,44.7],[960,43.5],[970,46],[978,56.5],[985,50],[990,47.8],[1003,51.3],[1015,48],[1030,47.8],[1150,44.8]];
const surveyCuO = [[0,41.3],[20,45],[25,52.2],[30,44],[90,42.6],[99,44],[103,63],[108,44],[125,49.1],[150,50],[154,69.7],[159,51],[180,53],[280,52.2],[285,62.3],[290,52],[300,51.3],[525,51.3],[530,60],[532,438],[535,110],[537,68.7],[548,82],[555,99.1],[565,90.4],[570,92.6],[600,88.2],[700,83.9],[800,79.5],[900,75.2],[930,73],[933,79.5],[937,74],[953,76.5],[957,74],[965,78],[970,86.1],[978,107.8],[988,94.8],[1003,109.9],[1015,99.1],[1050,92.6],[1100,88.2],[1150,83.9]];
const surveyZnO = [[0,60.3],[20,66],[25,70.9],[30,63],[90,62.2],[99,64],[103,83],[108,64],[125,63],[150,64],[154,81.3],[159,66],[180,70],[280,70],[285,78],[290,70],[470,70],[477,74],[482,70],[499,75],[505,70],[525,68.7],[530,80],[532,451],[535,130],[537,90.4],[548,104],[555,118.6],[565,105.6],[570,107.8],[600,103.4],[700,99.1],[800,94.8],[900,90.4],[960,88.2],[970,103.4],[978,153.4],[990,116.5],[1003,125.2],[1015,114.3],[1022,131.7],[1027,112.1],[1040,108],[1045,114.3],[1050,107.8],[1100,104.3],[1150,100]];
const surveyCuZnO = [[0,82.3],[20,88],[25,92.6],[30,84],[90,83.9],[99,86],[103,116],[108,86],[125,90.4],[150,92],[154,121.3],[159,94],[180,94],[280,93],[285,101.3],[290,93],[525,91.3],[530,110],[532,487.9],[535,150],[537,103.4],[548,125],[555,142.5],[565,131.7],[570,136],[600,129.5],[700,123],[800,118.6],[900,114.3],[930,112.1],[933,120.8],[937,114],[953,120.8],[957,116],[965,118],[970,125.2],[978,166.4],[985,142.5],[1003,155.6],[1015,142.5],[1030,138.2],[1050,136],[1100,131.7],[1150,127.3]];
const surveyGCu = [[0,114.7],[20,118],[25,123],[30,117],[80,118],[90,116.5],[99,118],[103,149.7],[108,119],[125,120.8],[150,122],[154,156.3],[159,124],[180,125.2],[280,124.7],[285,154.7],[290,127],[300,127.3],[395,125.3],[401,131.3],[406,125],[525,125.2],[530,140],[532,459.6],[535,170],[537,133.8],[548,150],[555,162.1],[565,153.4],[570,157.7],[600,153.4],[650,153.4],[700,149.1],[800,146.9],[900,142.5],[930,140.4],[933,153.4],[937,142],[953,146.9],[957,141],[965,145],[970,149.1],[978,181.6],[990,157.7],[1003,168.6],[1015,159.9],[1030,157.7],[1100,153.4],[1150,149.1]];
const surveyGZn = [[0,146.3],[20,152],[25,155.6],[30,149],[90,149.1],[99,151],[103,183],[108,151],[125,151.2],[150,154],[154,189.7],[159,156],[180,157.7],[280,159.7],[285,186],[290,160],[300,162.1],[395,159.7],[401,164.7],[406,159.9],[470,159.9],[477,165],[482,159.9],[499,166.4],[505,159.9],[525,159.9],[530,175],[532,464],[535,200],[537,168.6],[548,186],[555,199],[565,190.3],[570,192.5],[600,188.1],[700,183.8],[800,179.5],[900,175.1],[960,172.9],[970,183.8],[978,212],[990,192.5],[1003,199],[1015,190.3],[1022,216.4],[1027,191.4],[1040,190],[1045,205.5],[1050,190.3],[1100,186.8],[1150,181.6]];
const surveyGCuZn = [[0,181.3],[20,184],[25,188.1],[30,182],[76,184],[80,182],[90,181.6],[99,184],[103,233],[108,184],[125,188.1],[130,186],[150,187],[154,226],[159,189],[180,192.5],[280,193],[285,256],[290,194.7],[300,196.8],[395,193],[401,199],[406,192.5],[525,192.5],[530,205],[532,477],[535,215],[537,194.7],[548,222],[553,236.3],[565,229.4],[570,231.6],[600,227.2],[650,225.1],[700,223],[800,218.6],[900,214.2],[930,212],[933,225.1],[937,214],[953,220.7],[957,213],[965,216],[970,220.7],[978,251.1],[990,233.8],[1003,240.3],[1015,233.8],[1030,231.6],[1050,229.4],[1100,225.1],[1150,219.9]];
const surveyLegendY = [464, 439, 413, 388, 362, 333, 305, 276];
const surveyLegendX = [557, 639, 647];
// peak markers: [label, eV, label y, arrow start y, arrow end y]
const surveyPeaks = [["Si 2p",104,323,288,240],["C 1s",284.5,358,318,270],["N 1s",401.5,292,258,211]];
const surveyCuArrows = [[937,271,933.6,232],[937,271,954,228]];
const surveyZnArrows = [[1051,271,1022,219],[1051,271,1046,206]];
const surveyCuLines = [933.6, 954];
const surveyZnLines = [1022, 1046];
const surveyMajor = [0, 200, 400, 600, 800, 1000];
const surveyMinor = [100, 300, 500, 700, 900, 1100];

// ===================== RENDERING =====================
const SANS = '"Liberation Sans", Arial, Helvetica, sans-serif';
const SERIF = '"Liberation Serif", "Times New Roman", Times, serif';
const RED = "#ff2b2b", GREEN = "#3fdc3f", PURPLE = "#c86ee6", BLUE = "#3346f0", DARK = "#2a0a0a";
const baseStyle = {fontFamily: SANS, fontSize: "20px", overflow: "visible", background: "transparent", color: "black"};
const fmt = d => String(d);
const root = document.getElementById("root");

function addSpan(t, str) {
  const ts = document.createElementNS("http://www.w3.org/2000/svg", "tspan");
  ts.textContent = str; t.appendChild(ts); return ts;
}
function richify(svg) {
  svg.querySelectorAll("text").forEach(t => {
    const s = t.textContent;
    if (!/[\^_]\{/.test(s)) return;
    while (t.firstChild) t.removeChild(t.firstChild);
    const re = /([\^_])\{([^}]*)\}/g; let last = 0, m;
    while ((m = re.exec(s))) {
      if (m.index > last) addSpan(t, s.slice(last, m.index));
      const ts = addSpan(t, m[2]);
      ts.style.fontSize = "62%";
      ts.setAttribute("baseline-shift", m[1] === "^" ? "super" : "sub");
      last = re.lastIndex;
    }
    if (last < s.length) addSpan(t, s.slice(last));
  });
}
function place(svg, left, top, w) {
  const div = document.createElement("div");
  div.style.cssText = `position:absolute;left:${left}px;top:${top}px;width:${w}px;`;
  div.appendChild(svg); root.appendChild(div); richify(svg);
}
// the fitted envelope lies on the row baseline outside its peak region: extend it to the axis ends
const toEdges = (rows, [x0, x1]) => rows.map(p => p.length ? [[x0, 0], ...p, [x1, 0]] : [[x0, 0], [x1, 0]]);
const rowsTable = (rows, offsets) => rows.flatMap((pts, r) => pts.map(([x, h]) => ({r, x, y: offsets[r] + h})));
const comp = (rows, offsets, stroke, sw = 2.6, extra = {}) =>
  Plot.line(rowsTable(rows, offsets), {x: "x", y: "y", z: "r", stroke, strokeWidth: sw, curve: "catmull-rom", ...extra});
const trace = (pts, stroke, sw = 2.4) => Plot.line(pts, {x: d => d[0], y: d => d[1], stroke, strokeWidth: sw});

function chrome({innerH, majors, minors, titleDy, yDx, tag, tagDx, tagDy, tagSize, head, headDx, headDy}) {
  return [
    Plot.tickX(majors, {x: d => d, insetTop: innerH - 9, strokeWidth: 2.2, stroke: "black"}),
    minors ? Plot.tickX(minors, {x: d => d, insetTop: innerH - 4, strokeWidth: 2, stroke: "black"}) : null,
    Plot.text(["binding energy (eV)"], {frameAnchor: "bottom", dy: titleDy, text: d => d, fontSize: 24, fontFamily: SANS}),
    Plot.text(["Intensity (a.u.)"], {frameAnchor: "left", dx: yDx, rotate: -90, text: d => d, fontSize: 25, fontFamily: SANS}),
    Plot.text([tag], {frameAnchor: "top-left", dx: tagDx, dy: tagDy, text: d => d, fontSize: tagSize, fontFamily: SERIF}),
    head ? Plot.text([head], {frameAnchor: "top-left", dx: headDx, dy: headDy, text: d => d, textAnchor: "start", fontSize: 23, fontFamily: SANS}) : null,
    Plot.frame({stroke: "black", strokeWidth: 3})
  ];
}
const sampleLabels = (labelX, labelY, size = 22) =>
  Plot.text(samples.map((s, i) => ({s, x: labelX, y: labelY[i]})), {x: "x", y: "y", text: "s", fontSize: size, fontFamily: SERIF});
const notes = (list, size) => [
  Plot.arrow(list, {x1: d => d[3], y1: d => d[4], x2: d => d[5], y2: d => d[6], stroke: "black", strokeWidth: 1.4, headLength: 7}),
  Plot.text(list, {x: d => d[1], y: d => d[2], text: d => d[0], fontSize: size, fontFamily: SERIF})
];

// ---- (a)
{
  const cols = ["#111111", "#ff1f1f", "#2447ff", "#b455ee"];
  const legend = znSeries.map((n, i) => ({n, i, y: zn2pLegendY[i]}));
  place(Plot.plot({
    width: 720, height: 600, marginLeft: 59, marginRight: 62, marginTop: 4, marginBottom: 91,
    x: {domain: [1015, 1051], ticks: zn2pTicks, tickSize: 0, tickPadding: 17, label: null, tickFormat: fmt},
    y: {domain: [0, 505], axis: null}, style: baseStyle,
    marks: [
      trace(zn2p_GSBA_CuZn, cols[3]), trace(zn2p_SBA_CuZnO, cols[1]), trace(zn2p_SBA_ZnO, cols[0]), trace(zn2p_GSBA_Zn, cols[2]),
      Plot.link(legend, {x1: () => zn2pLegendX[0], x2: () => zn2pLegendX[1], y1: "y", y2: "y", stroke: d => cols[d.i], strokeWidth: 3}),
      Plot.text(legend, {x: () => zn2pLegendX[2], y: "y", text: "n", textAnchor: "start", fontSize: 23, fontFamily: SANS}),
      Plot.text([["Zn 2p_{1/2}", 1023.0, 454], ["Zn 2p_{3/2}", 1046.0, 329]], {x: d => d[1], y: d => d[2], text: d => d[0], fontSize: 21, fontFamily: SANS}),
      Plot.text([["23 eV", 1034.1, 153]], {x: d => d[1], y: d => d[2], text: d => d[0], fontSize: 23, fontFamily: SANS}),
      Plot.arrow([[1031.6, 1022.8], [1036.7, 1045.6]], {x1: d => d[0], x2: d => d[1], y1: () => 154, y2: () => 154, stroke: "black", strokeWidth: 1.3, headLength: 9}),
      Plot.ruleX([[1022.8, 131, 232], [1045.6, 96, 166]], {x: d => d[0], y1: d => d[1], y2: d => d[2], stroke: "black", strokeWidth: 1.3}),
      ...chrome({innerH: 505, majors: zn2pTicks, titleDy: 66, yDx: -41, tag: "a", tagDx: -33, tagDy: 22, tagSize: 40, head: "Zn 2p", headDx: 12, headDy: 31})
    ]
  }), 0, 0, 720);
}

// ---- (b)
{
  const cols = ["#111111", "#ff1f1f", "#2447ff", "#b455ee"];
  const legend = cuSeries.map((n, i) => ({n, i, y: cu2pLegendY[i]}));
  place(Plot.plot({
    width: 754, height: 600, marginLeft: 71, marginRight: 20, marginTop: 7, marginBottom: 91,
    x: {domain: [925, 960], ticks: cu2pTicks, tickSize: 0, tickPadding: 17, label: null, tickFormat: fmt},
    y: {domain: [0, 502], axis: null}, style: baseStyle,
    marks: [
      trace(cu2p_SBA_CuO, cols[0]), trace(cu2p_SBA_CuZnO, cols[1]), trace(cu2p_GSBA_Cu, cols[2]), trace(cu2p_GSBA_CuZn, cols[3]),
      Plot.link(legend, {x1: () => cu2pLegendX[0], x2: () => cu2pLegendX[1], y1: "y", y2: "y", stroke: d => cols[d.i], strokeWidth: 3}),
      Plot.text(legend, {x: () => cu2pLegendX[2], y: "y", text: "n", textAnchor: "start", fontSize: 23, fontFamily: SANS}),
      Plot.text([["Cu 2p_{1/2}", 933.2, 427], ["Cu 2p_{3/2}", 953.1, 319]], {x: d => d[1], y: d => d[2], text: d => d[0], fontSize: 21, fontFamily: SANS}),
      ...chrome({innerH: 502, majors: cu2pTicks, titleDy: 66, yDx: -50, tag: "b", tagDx: -36, tagDy: 30, tagSize: 40, head: "Cu 2p", headDx: 17, headDy: 31})
    ]
  }), 680, 0, 754);
}

// ---- (c)
place(Plot.plot({
  width: 720, height: 600, marginLeft: 49, marginRight: 51, marginTop: 30, marginBottom: 102,
  x: {domain: [529, 538], ticks: o1sMajor, tickSize: 0, tickPadding: 15, label: null, tickFormat: fmt},
  y: {domain: [0, 468], axis: null}, style: baseStyle,
  marks: [
    Plot.ruleY(o1sOffsets, {stroke: "#111", strokeWidth: 2.6}),
    Plot.ruleY(o1sOffsets, {stroke: BLUE, strokeWidth: 2, dy: -1.6}),
    comp(o1sBlue, o1sOffsets, BLUE), comp(o1sPurple, o1sOffsets, PURPLE), comp(o1sGreen, o1sOffsets, GREEN),
    comp(toEdges(o1sEnvelope, [529, 538]), o1sOffsets, DARK, 2.6, {dy: 1.2}), comp(toEdges(o1sEnvelope, [529, 538]), o1sOffsets, RED, 2.2, {dy: -0.9}),
    ...notes(o1sNotes, 19),
    sampleLabels(o1sLabelX, o1sLabelY, 22),
    ...chrome({innerH: 468, majors: o1sMajor, minors: o1sMinor, titleDy: 59, yDx: -31, tag: "c", tagDx: -28, tagDy: 15, tagSize: 32, head: "O1s", headDx: 11, headDy: 23})
  ]
}), 0, 630, 720);

// ---- (d)
place(Plot.plot({
  width: 754, height: 600, marginLeft: 81, marginRight: 47, marginTop: 32, marginBottom: 102,
  x: {domain: [100, 109], ticks: si2pMajor, tickSize: 0, tickPadding: 15, label: null, tickFormat: fmt},
  y: {domain: [0, 466], axis: null}, style: baseStyle,
  marks: [
    Plot.ruleY(si2pOffsets, {stroke: "#111", strokeWidth: 2.6}),
    Plot.ruleY(si2pOffsets, {stroke: BLUE, strokeWidth: 2, dy: -1.6}),
    comp(si2p12, si2pOffsets, GREEN), comp(si2p32, si2pOffsets, PURPLE),
    comp(toEdges(si2pEnvelope, [100, 109]), si2pOffsets, DARK, 2.6, {dy: 1.2}), comp(toEdges(si2pEnvelope, [100, 109]), si2pOffsets, RED, 2.2, {dy: -0.9}),
    Plot.link(si2pLegend.map((n, i) => ({n, i, y: si2pLegendY[i]})), {x1: () => si2pLegendX[0], x2: () => si2pLegendX[1], y1: "y", y2: "y", stroke: d => d.i === 0 ? PURPLE : GREEN, strokeWidth: 2.5}),
    Plot.text(si2pLegend.map((n, i) => ({n, y: si2pLegendY[i]})), {x: () => si2pLegendX[2], y: "y", text: "n", textAnchor: "start", fontSize: 16, fontFamily: SERIF}),
    sampleLabels(si2pLabelX, si2pLabelY, 22),
    ...chrome({innerH: 466, majors: si2pMajor, minors: si2pMinor, titleDy: 59, yDx: -42, tag: "d", tagDx: -26, tagDy: 24, tagSize: 32, head: "Si 2p", headDx: 23, headDy: 31})
  ]
}), 680, 630, 754);

// ---- (e)
place(Plot.plot({
  width: 720, height: 620, marginLeft: 48, marginRight: 37, marginTop: 37, marginBottom: 105,
  x: {domain: [396, 408], ticks: n1sMajor, tickSize: 0, tickPadding: 12, label: null, tickFormat: fmt},
  y: {domain: [0, 478], axis: null}, style: baseStyle,
  marks: [
    Plot.ruleY(n1sOffsets, {stroke: "#333", strokeWidth: 1, dy: 1}),
    Plot.ruleY(n1sOffsets, {stroke: "#5a4cf0", strokeWidth: 2.6}),
    comp(n1sNH, n1sOffsets, GREEN), comp(toEdges(n1sCN, [396, 408]), n1sOffsets, PURPLE, 2.4, {dy: -0.8}),
    comp(toEdges(n1sEnvelope, [396, 408]), n1sOffsets, "#222", 3.2, {dy: 0.6}), comp(n1sEnvelope, n1sOffsets, "#ff3355", 2),
    Plot.link(n1sLegend.map((n, i) => ({n, i, y: n1sLegendY[i]})), {x1: () => n1sLegendX[0], x2: () => n1sLegendX[1], y1: "y", y2: "y", stroke: d => d.i === 0 ? GREEN : PURPLE, strokeWidth: 2.6}),
    Plot.text(n1sLegend.map((n, i) => ({n, y: n1sLegendY[i]})), {x: () => n1sLegendX[2], y: "y", text: "n", textAnchor: "start", fontSize: 21, fontFamily: SERIF}),
    sampleLabels(n1sLabelX, n1sLabelY, 23),
    ...chrome({innerH: 478, majors: n1sMajor, minors: n1sMinor, titleDy: 55, yDx: -32, tag: "e", tagDx: -31, tagDy: 21, tagSize: 40, head: "N1s", headDx: 16, headDy: 20})
  ]
}), 0, 1250, 720);

// ---- (f)
place(Plot.plot({
  width: 754, height: 620, marginLeft: 91, marginRight: 30, marginTop: 37, marginBottom: 105,
  x: {domain: [282, 296], ticks: c1sMajor, tickSize: 0, tickPadding: 12, label: null, tickFormat: fmt},
  y: {domain: [0, 478], axis: null}, style: baseStyle,
  marks: [
    Plot.ruleY(c1sOffsets.slice(0, 7), {stroke: "#111", strokeWidth: 2.6}),
    Plot.ruleY(c1sOffsets, {stroke: "#4b4ef0", strokeWidth: 2.2, dy: -1.6}),
    comp(c1sPurple, c1sOffsets, "#d083ee"), comp(c1sViolet, c1sOffsets, "#8a5cf2"), comp(c1sBlue, c1sOffsets, "#3344dd"), comp(c1sGreen, c1sOffsets, GREEN),
    comp(toEdges(c1sEnvelope, [282, 296]), c1sOffsets, DARK, 2.4, {dy: 1.2}), comp(toEdges(c1sEnvelope, [282, 296]), c1sOffsets, RED, 2.2, {dy: -0.9}),
    ...notes(c1sNotes, 15),
    sampleLabels(c1sLabelX, c1sLabelY, 23),
    ...chrome({innerH: 478, majors: c1sMajor, minors: c1sMinor, titleDy: 55, yDx: -38, tag: "f", tagDx: -26, tagDy: 20, tagSize: 40, head: "C1s", headDx: 9, headDy: 20})
  ]
}), 680, 1250, 754);

// ---- (g)
{
  const cols = ["#111111", "#ff1f1f", "#3a6cff", "#c46ef0", "#25b225", "#14148e", "#5a5cff", "#7a2fd0"];
  const series = [surveySBA3, surveyGSBA, surveyCuO, surveyZnO, surveyCuZnO, surveyGCu, surveyGZn, surveyGCuZn];
  const legend = surveyNames.map((n, i) => ({n, i, y: surveyLegendY[i]}));
  place(Plot.plot({
    width: 830, height: 611, marginLeft: 105, marginRight: 50, marginTop: 35, marginBottom: 78,
    x: {domain: [0, 1150], ticks: surveyMajor, tickSize: 0, tickPadding: 13, label: null, tickFormat: fmt},
    y: {domain: [0, 498], axis: null}, style: baseStyle,
    marks: [
      ...series.map((s, i) => trace(s, cols[i], 2.3)),
      Plot.link(legend, {x1: () => surveyLegendX[0], x2: () => surveyLegendX[1], y1: "y", y2: "y", stroke: d => cols[d.i], strokeWidth: 3}),
      Plot.text(legend, {x: () => surveyLegendX[2], y: "y", text: "n", textAnchor: "start", fontSize: 20, fontFamily: SERIF}),
      Plot.text(surveyPeaks, {x: d => d[1], y: d => d[2], text: d => d[0], rotate: -90, fontSize: 25, fontFamily: SANS}),
      Plot.arrow(surveyPeaks, {x1: d => d[1], x2: d => d[1], y1: d => d[3], y2: d => d[4], stroke: "black", strokeWidth: 1.4, headLength: 9}),
      Plot.text([["Cu 2p", 937, 308], ["Zn 2p", 1051, 305]], {x: d => d[1], y: d => d[2], text: d => d[0], rotate: -90, fontSize: 25, fontFamily: SANS}),
      Plot.text([["O 1s", 473.6, 470]], {x: d => d[1], y: d => d[2], text: d => d[0], fontSize: 27, fontFamily: SANS}),
      Plot.arrow([...surveyCuArrows, ...surveyZnArrows], {x1: d => d[0], y1: d => d[1], x2: d => d[2], y2: d => d[3], stroke: "black", strokeWidth: 1.4, headLength: 8}),
      Plot.ruleX(surveyCuLines, {x: d => d, y1: () => 75, y2: () => 228, stroke: "black", strokeWidth: 1.3, strokeDasharray: "4,3"}),
      Plot.ruleX(surveyZnLines, {x: d => d, y1: () => 112, y2: () => 212, stroke: "black", strokeWidth: 1.3, strokeDasharray: "4,3"}),
      ...chrome({innerH: 498, majors: surveyMajor, minors: surveyMinor, titleDy: 59, yDx: -48, tag: "g", tagDx: -35, tagDy: 26, tagSize: 40})
    ]
  }), 300, 1870, 830);
}
</script></body></html>
